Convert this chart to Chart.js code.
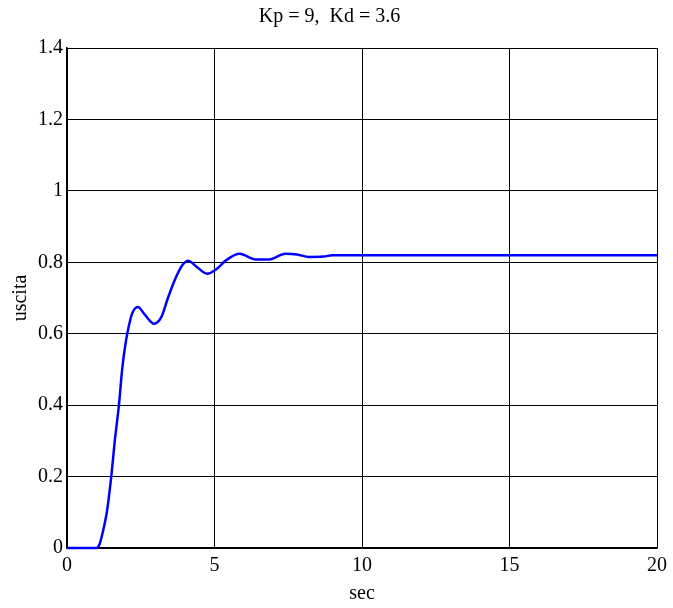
<!DOCTYPE html>
<html>
<head>
<meta charset="utf-8">
<script src="https://cdn.jsdelivr.net/npm/chart.js@4"></script>
<style>
  body { margin: 0; background: #fff; }
</style>
</head>
<body>
<canvas id="myChart" width="673" height="608"></canvas>
<script>
"use strict";

// step response
const timeValues = [0, 1.0, 1.1, 1.2, 1.35, 1.5, 1.62, 1.76, 1.87, 1.97, 2.08, 2.2, 2.4, 2.65, 2.95, 3.2, 3.42, 3.65, 3.87, 4.1, 4.4, 4.75, 5.05, 5.4, 5.85, 6.4, 6.85, 7.4, 7.8, 8.2, 8.7, 9.0, 20];
const outputValues = [0, 0, 0.01, 0.04, 0.10, 0.20, 0.30, 0.40, 0.50, 0.565, 0.615, 0.655, 0.675, 0.652, 0.628, 0.647, 0.70, 0.75, 0.787, 0.804, 0.787, 0.768, 0.78, 0.806, 0.824, 0.808, 0.808, 0.824, 0.822, 0.815, 0.816, 0.82, 0.82];

const xTicks = [0, 5, 10, 15, 20];
const yTicks = [0, 0.2, 0.4, 0.6, 0.8, 1, 1.2, 1.4];

const titleText = "Kp = 9,  Kd = 3.6";
const xLabel = "sec";
const yLabel = "uscita";

const fontFamily = "'Liberation Serif', 'Times New Roman', serif";

let points = [];
for (let i in timeValues) {
  points.push({ x: timeValues[i], y: outputValues[i] });
}

const ctx = document.getElementById("myChart").getContext("2d");

const myChart = new Chart(ctx, {
  type: "line",
  data: {
    datasets: [
      {
        data: points,
        borderColor: "#0000ff",
        borderWidth: 2.5,
        pointRadius: 0,
        fill: false,
        clip: 4,
        cubicInterpolationMode: "monotone",
      },
    ],
  },
  options: {
    responsive: false,
    animation: false,
    layout: {
      padding: { left: 0, right: 14, top: 0, bottom: 0 },
    },
    plugins: {
      legend: { display: false },
      tooltip: { enabled: false },
      title: {
        display: true,
        text: titleText,
        color: "#000",
        font: { family: fontFamily, size: 20, weight: "normal" },
        padding: { top: 5, bottom: 19 },
      },
    },
    scales: {
      x: {
        type: "linear",
        min: 0,
        max: 20,
        afterBuildTicks: (scale) => {
          scale.ticks = xTicks.map((v) => ({ value: v }));
        },
        afterFit: (scale) => {
          scale.height = 60;
        },
        grid: { color: "#000", lineWidth: 1, drawTicks: false },
        border: { color: "#000", width: 1.5 },
        ticks: {
          color: "#000",
          padding: 6,
          font: { family: fontFamily, size: 20 },
        },
        title: {
          display: true,
          text: xLabel,
          color: "#000",
          font: { family: fontFamily, size: 20 },
          padding: { top: 0, bottom: 2 },
        },
      },
      y: {
        min: 0,
        max: 1.4,
        afterBuildTicks: (scale) => {
          scale.ticks = yTicks.map((v) => ({ value: v }));
        },
        afterFit: (scale) => {
          scale.width = 67;
        },
        grid: { color: "#000", lineWidth: 1, drawTicks: false },
        border: { color: "#000", width: 1.5 },
        ticks: {
          color: "#000",
          padding: 4,
          font: { family: fontFamily, size: 20 },
          callback: (v) => String(Math.round(v * 10) / 10),
        },
        title: {
          display: true,
          text: yLabel,
          color: "#000",
          font: { family: fontFamily, size: 20 },
          padding: { top: 9, bottom: 0 },
        },
      },
    },
  },
});
</script>
</body>
</html>
